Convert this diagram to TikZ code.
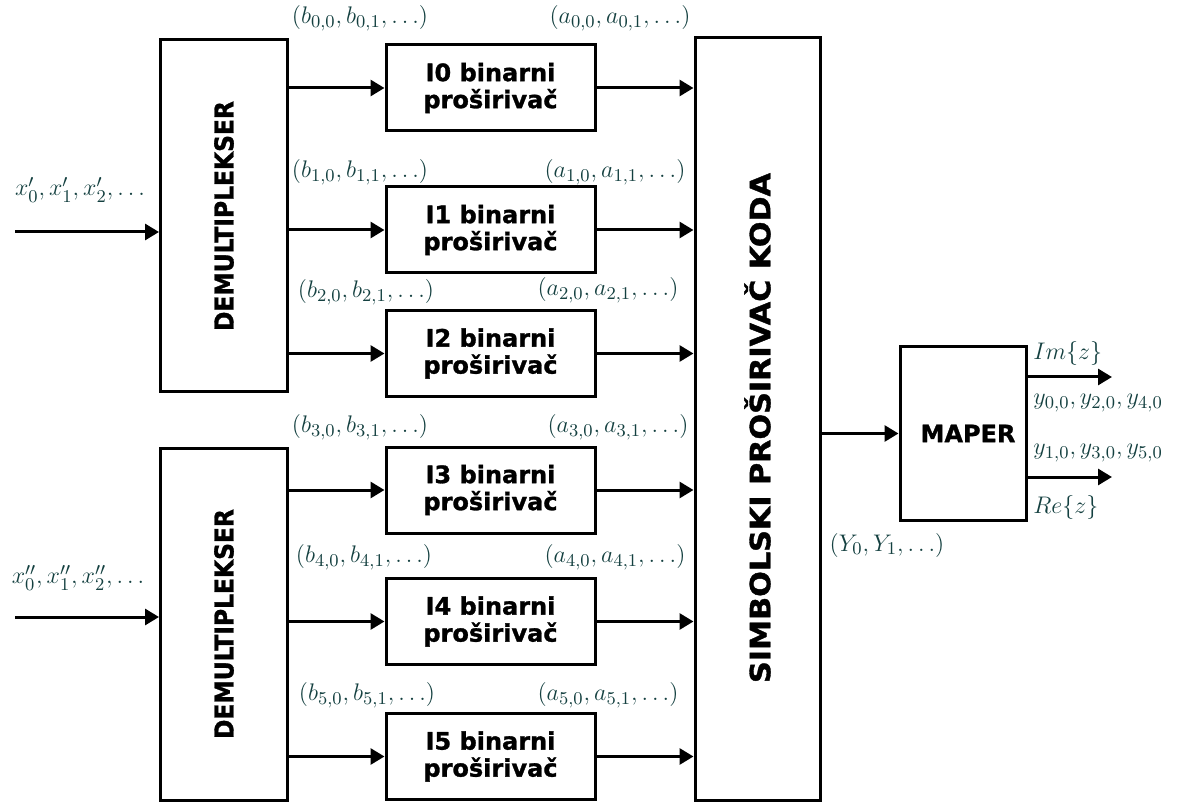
\documentclass[tikz,border=0pt]{standalone}
\usepackage{fontspec}
\usepackage{amsmath}
\usepackage{graphicx}
\usetikzlibrary{arrows.meta}
\newfontfamily\verd{DejaVu Sans}[BoldFeatures={FakeBold=1.2}]
\newfontfamily\verdc{DejaVu Sans Condensed}[BoldFeatures={FakeBold=1.2}]
\definecolor{lblc}{RGB}{20,64,64}
\tikzset{
  blk/.style={draw, line width=1.5pt, inner sep=0pt},
  ibox/.style={blk, minimum width=104.5pt, minimum height=43pt, align=center,
    font=\verd\bfseries\fontsize{12}{13.5}\selectfont},
  lbl/.style={text=lblc, inner sep=0pt, font=\fontsize{12.5}{14}\selectfont},
  arr/.style={-{Triangle[length=7pt,width=8pt]}, line width=1.5pt},
}

\begin{document}
\begin{tikzpicture}[x=0.5pt, y=-0.5pt]
            \useasboundingbox (0,0) rectangle (1184,802);

            \node[blk, minimum width=63.5pt, minimum height=176pt] (dm1) at (224, 216) {};
            \node[blk, minimum width=63.5pt, minimum height=176pt] (dm2) at (224, 624) {};
            \node[blk, minimum width=62.5pt, minimum height=381pt] (sym) at (757.5, 419) {};
            \node[blk, minimum width=63pt, minimum height=86.5pt, font=\verd\bfseries\fontsize{12}{13}\selectfont] (map) at (963, 433.5) {\hspace{5pt}MAPER};

            \node[rotate=90, font=\verdc\bfseries\fontsize{13}{14}\selectfont] (dm1txt) at (dm1) {DEMULTIPLEKSER};
            \node[rotate=90, font=\verdc\bfseries\fontsize{13}{14}\selectfont] (dm2txt) at (dm2) {DEMULTIPLEKSER};
            \node[rotate=90, font=\verdc\bfseries\fontsize{14}{15}\selectfont] (symtxt) at (757.5, 428) {\scalebox{1.2}[1]{SIMBOLSKI PROŠIRIVAČ KODA}};

            \node[ibox] (i0) at (490.5, 88) {I0 binarni\\proširivač};
            \node[ibox] (i1) at (490.5, 230) {I1 binarni\\proširivač};
            \node[ibox] (i2) at (490.5, 353.5) {I2 binarni\\proširivač};
            \node[ibox] (i3) at (490.5, 490) {I3 binarni\\proširivač};
            \node[ibox] (i4) at (490.5, 621.5) {I4 binarni\\proširivač};
            \node[ibox] (i5) at (490.5, 756.5) {I5 binarni\\proširivač};

            \node[lbl] (b0) at (360, 18) {$(b_{0,0}, b_{0,1}, \ldots)$};
            \node[lbl] (b1) at (360, 172) {$(b_{1,0}, b_{1,1}, \ldots)$};
            \node[lbl] (b2) at (366, 292) {$(b_{2,0}, b_{2,1}, \ldots)$};
            \node[lbl] (b3) at (360, 427) {$(b_{3,0}, b_{3,1}, \ldots)$};
            \node[lbl] (b4) at (364, 557) {$(b_{4,0}, b_{4,1}, \ldots)$};
            \node[lbl] (b5) at (367, 695) {$(b_{5,0}, b_{5,1}, \ldots)$};
            \node[lbl] (a0) at (620, 18) {$(a_{0,0}, a_{0,1}, \ldots)$};
            \node[lbl] (a1) at (615, 172) {$(a_{1,0}, a_{1,1}, \ldots)$};
            \node[lbl] (a2) at (608, 290) {$(a_{2,0}, a_{2,1}, \ldots)$};
            \node[lbl] (a3) at (618, 427) {$(a_{3,0}, a_{3,1}, \ldots)$};
            \node[lbl] (a4) at (615, 557) {$(a_{4,0}, a_{4,1}, \ldots)$};
            \node[lbl] (a5) at (608, 695) {$(a_{5,0}, a_{5,1}, \ldots)$};

            \node[lbl] (xa) at (80, 190) {$x'_0, x'_1, x'_2, \ldots$};
            \node[lbl] (xb) at (78, 578) {$x''_0, x''_1, x''_2, \ldots$};
            \node[lbl] (ylbl) at (887, 545) {$(Y_0, Y_1, \ldots)$};
            \node[lbl, anchor=west] (im) at (1033, 353) {$Im\{z\}$};
            \node[lbl, anchor=west] (yev) at (1033, 403) {$y_{0,0}, y_{2,0}, y_{4,0}$};
            \node[lbl, anchor=west] (yod) at (1033, 453) {$y_{1,0}, y_{3,0}, y_{5,0}$};
            \node[lbl, anchor=west] (re) at (1033, 507) {$Re\{z\}$};

            \coordinate (in1) at (15, 232);
            \coordinate (in2) at (15, 617);
            \coordinate (out1) at (1112, 377);
            \coordinate (out2) at (1112, 477);

            \draw[arr] (in1) -- (in1 -| dm1.west);
            \draw[arr] (in2) -- (in2 -| dm2.west);
            \draw[arr] (dm1.east |- i0.west) -- (i0.west);
            \draw[arr] (dm1.east |- i1.west) -- (i1.west);
            \draw[arr] (dm1.east |- i2.west) -- (i2.west);
            \draw[arr] (dm2.east |- i3.west) -- (i3.west);
            \draw[arr] (dm2.east |- i4.west) -- (i4.west);
            \draw[arr] (dm2.east |- i5.west) -- (i5.west);
            \draw[arr] (i0.east) -- (i0.east -| sym.west);
            \draw[arr] (i1.east) -- (i1.east -| sym.west);
            \draw[arr] (i2.east) -- (i2.east -| sym.west);
            \draw[arr] (i3.east) -- (i3.east -| sym.west);
            \draw[arr] (i4.east) -- (i4.east -| sym.west);
            \draw[arr] (i5.east) -- (i5.east -| sym.west);
            \draw[arr] (sym.east |- map.west) -- (map.west);
            \draw[arr] (map.east |- out1) -- (out1);
            \draw[arr] (map.east |- out2) -- (out2);
        \end{tikzpicture}
\end{document}
